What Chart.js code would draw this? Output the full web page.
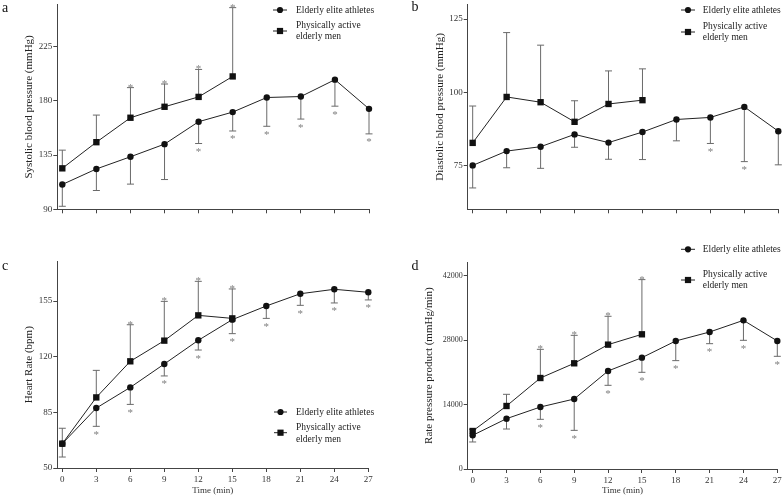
<!DOCTYPE html>
<html>
<head>
<meta charset="utf-8">
<script src="https://cdn.jsdelivr.net/npm/chart.js@4.4.0/dist/chart.umd.min.js"></script>
<style>
html, body { margin: 0; padding: 0; background: #fff; }
#wrap { position: relative; width: 783px; height: 496px; overflow: hidden; }
canvas { position: absolute; }
</style>
</head>
<body>
<div id="wrap">
  <canvas id="pa" width="390" height="240" style="left:0;top:0"></canvas>
  <canvas id="pb" width="393" height="240" style="left:390px;top:0"></canvas>
  <canvas id="pc" width="390" height="256" style="left:0;top:240px"></canvas>
  <canvas id="pd" width="393" height="256" style="left:390px;top:240px"></canvas>
</div>
<script>
// time points (min)
const timesElite = [0, 3, 6, 9, 12, 15, 18, 21, 24, 27];
const timesActive = [0, 3, 6, 9, 12, 15];
const xTicks = [0, 3, 6, 9, 12, 15, 18, 21, 24, 27];
const seriesNames = ['Elderly elite athletes', 'Physically active', 'elderly men'];

// a - systolic blood pressure
const sbpElite = [110.6, 123.5, 133.6, 144.1, 162.7, 170.7, 182.8, 183.6, 197.6, 173.4];
const sbpEliteSd = [18.1, 17.9, 22.7, 29.4, 18.1, 15.7, 23.9, 18.7, 22.0, 20.8];
const sbpActive = [124.0, 145.7, 166.0, 175.1, 183.3, 200.3];
const sbpActiveSd = [15.1, 22.5, 25.0, 18.9, 22.8, 57.1];
const sbpEliteStar = [0, 0, 0, 0, 1, 1, 1, 1, 1, 1];
const sbpActiveStar = [0, 0, 1, 1, 1, 1];
const sbpTicks = [90, 135, 180, 225];

// b - diastolic blood pressure
const dbpElite = [75.0, 79.9, 81.4, 85.6, 82.8, 86.4, 90.7, 91.4, 95.0, 86.7];
const dbpEliteSd = [7.7, 5.7, 7.4, 4.4, 5.7, 9.4, 7.3, 8.9, 18.7, 11.5];
const dbpActive = [82.7, 98.4, 96.6, 89.9, 96.0, 97.3];
const dbpActiveSd = [12.6, 22.0, 19.5, 7.2, 11.3, 10.7];
const dbpEliteStar = [0, 0, 0, 0, 0, 0, 0, 1, 1, 0];
const dbpActiveStar = [0, 0, 0, 0, 0, 0];
const dbpTicks = [75, 100, 125];

// c - heart rate
const hrElite = [65.3, 87.7, 100.7, 115.4, 130.3, 143.3, 151.9, 159.6, 162.4, 160.5];
const hrEliteSd = [8.4, 11.5, 10.7, 7.5, 6.1, 8.8, 7.8, 7.3, 8.6, 4.8];
const hrActive = [65.3, 94.4, 117.1, 130.1, 146.0, 144.1];
const hrActiveSd = [9.7, 17.0, 23.0, 24.7, 21.4, 18.5];
const hrEliteStar = [0, 1, 1, 1, 1, 1, 1, 1, 1, 1];
const hrActiveStar = [0, 0, 1, 1, 1, 1];
const hrTicks = [50, 85, 120, 155];

// d - rate pressure product
const rppElite = [7330, 10950, 13490, 15230, 21330, 24230, 27860, 29810, 32350, 27860];
const rppEliteSd = [1450, 2250, 2680, 6820, 3120, 3190, 4280, 2540, 4350, 3340];
const rppActive = [8270, 13710, 19800, 23000, 27060, 29310];
const rppActiveSd = [360, 2540, 6240, 6090, 6170, 11900];
const rppEliteStar = [0, 0, 1, 1, 1, 1, 1, 1, 1, 1];
const rppActiveStar = [0, 0, 1, 1, 1, 1];
const rppTicks = [0, 14000, 28000, 42000];

const FONT = '"Liberation Serif", "Times New Roman", serif';
const LINE = '#222';
const BAR = '#6a6a6a';
const STAR = '#808080';

Chart.defaults.font.family = FONT;
Chart.defaults.color = '#333';

// error bars, asterisks, legend and panel letter
const extras = {
  id: 'extras',
  beforeDatasetsDraw(chart) {
    const p = chart.options.plugins.extras;
    const xs = chart.scales.x, ys = chart.scales.y;
    const ctx = chart.ctx;
    ctx.save();
    ctx.strokeStyle = BAR;
    ctx.lineWidth = 1;
    p.bars.forEach(b => {
      b.times.forEach((t, i) => {
        const x = xs.getPixelForValue(t);
        const y0 = ys.getPixelForValue(b.mean[i]);
        const y1 = ys.getPixelForValue(b.mean[i] + b.dir * b.sd[i]);
        ctx.beginPath();
        ctx.moveTo(x, y0);
        ctx.lineTo(x, y1);
        ctx.moveTo(x - 3.5, y1);
        ctx.lineTo(x + 3.5, y1);
        ctx.stroke();
      });
    });
    ctx.restore();
  },
  afterDatasetsDraw(chart) {
    const p = chart.options.plugins.extras;
    const xs = chart.scales.x, ys = chart.scales.y;
    const ctx = chart.ctx;
    ctx.save();
    // asterisks
    ctx.fillStyle = STAR;
    ctx.font = '11px ' + FONT;
    ctx.textAlign = 'center';
    ctx.textBaseline = 'alphabetic';
    p.bars.forEach(b => {
      b.times.forEach((t, i) => {
        if (!b.star[i]) return;
        const x = xs.getPixelForValue(t);
        const y1 = ys.getPixelForValue(b.mean[i] + b.dir * b.sd[i]);
        ctx.fillText('*', x, b.dir < 0 ? y1 + 11.5 : y1 + 3);
      });
    });
    // legend
    const L = p.legend;
    ctx.strokeStyle = LINE;
    ctx.fillStyle = '#111';
    ctx.lineWidth = 1;
    ctx.beginPath();
    ctx.moveTo(L.x0, L.r1); ctx.lineTo(L.x1, L.r1);
    ctx.moveTo(L.x0, L.sq); ctx.lineTo(L.x1, L.sq);
    ctx.stroke();
    const mx = (L.x0 + L.x1) / 2;
    ctx.beginPath();
    ctx.arc(mx, L.r1, 3.1, 0, Math.PI * 2);
    ctx.fill();
    ctx.fillRect(mx - 3.1, L.sq - 3.1, 6.2, 6.2);
    ctx.fillStyle = '#222';
    ctx.font = '9.5px ' + FONT;
    ctx.textAlign = 'left';
    ctx.textBaseline = 'middle';
    ctx.fillText(seriesNames[0], L.tx, L.r1);
    ctx.fillText(seriesNames[1], L.tx, L.r2);
    ctx.fillText(seriesNames[2], L.tx, L.r3);
    // panel letter
    ctx.fillStyle = '#111';
    ctx.font = '14px ' + FONT;
    ctx.textAlign = 'center';
    ctx.fillText(p.letter.text, p.letter.x, p.letter.y);
    ctx.restore();
  }
};

function makePanel(id, c) {
  const toXY = (ts, vs) => ts.map((t, i) => ({ x: t, y: vs[i] }));
  const grid = { display: true, drawOnChartArea: false, drawTicks: true, tickLength: 4, color: '#444' };
  const border = { display: true, color: '#444', width: 1 };
  new Chart(document.getElementById(id), {
    type: 'line',
    data: {
      datasets: [
        {
          data: toXY(timesElite, c.elite),
          borderColor: LINE, borderWidth: 1, tension: 0, clip: false,
          pointStyle: 'circle', pointRadius: 3.2, pointBorderWidth: 0,
          pointBackgroundColor: '#111'
        },
        {
          data: toXY(timesActive, c.active),
          borderColor: LINE, borderWidth: 1, tension: 0, clip: false,
          pointStyle: 'rect', pointRadius: 4.5, pointBorderWidth: 0,
          pointBackgroundColor: '#111'
        }
      ]
    },
    options: {
      responsive: false,
      animation: false,
      events: [],
      layout: { padding: c.pad },
      plugins: {
        legend: { display: false },
        tooltip: { enabled: false },
        extras: {
          bars: [
            { times: timesElite, mean: c.elite, sd: c.eliteSd, star: c.eliteStar, dir: -1 },
            { times: timesActive, mean: c.active, sd: c.activeSd, star: c.activeStar, dir: 1 }
          ],
          legend: c.legend,
          letter: c.letter
        }
      },
      scales: {
        x: {
          type: 'linear', min: -0.44, max: 27,
          grid: grid, border: border,
          afterBuildTicks: s => { s.ticks = xTicks.map(v => ({ value: v })); },
          afterFit: s => { s.height = c.xHeight; s.paddingLeft = 0; s.paddingRight = 0; },
          ticks: { display: c.showX, font: { size: 9 }, padding: 2, color: '#333', maxRotation: 0, callback: v => String(v) },
          title: { display: c.showX, text: 'Time (min)', font: { size: 9 }, color: '#333', padding: { top: 0, bottom: 0 } }
        },
        y: {
          type: 'linear', min: c.yMin, max: c.yMax,
          grid: grid, border: border,
          afterBuildTicks: s => { s.ticks = c.yTicks.map(v => ({ value: v })); },
          afterFit: s => { s.width = c.yWidth; s.paddingTop = 0; s.paddingBottom = 0; },
          ticks: { font: { size: c.tickSize }, padding: 1, color: '#333', callback: v => String(v) },
          title: { display: true, text: c.yTitle, font: { size: 11 }, color: '#222', padding: { top: c.titlePad, bottom: 0 } }
        }
      }
    },
    plugins: [extras]
  });
}

makePanel('pa', {
  elite: sbpElite, eliteSd: sbpEliteSd, eliteStar: sbpEliteStar,
  active: sbpActive, activeSd: sbpActiveSd, activeStar: sbpActiveStar,
  yMin: 90, yMax: 260, yTicks: sbpTicks, yTitle: 'Systolic blood pressure (mmHg)',
  pad: { left: 0, top: 3, right: 21, bottom: 0 }, yWidth: 57.3, xHeight: 30.7,
  titlePad: 22.4, tickSize: 9, showX: false,
  legend: { x0: 273, x1: 287, tx: 296, r1: 10, r2: 25, r3: 36, sq: 31 },
  letter: { text: 'a', x: 5, y: 8 }
});

makePanel('pb', {
  elite: dbpElite, eliteSd: dbpEliteSd, eliteStar: dbpEliteStar,
  active: dbpActive, activeSd: dbpActiveSd, activeStar: dbpActiveStar,
  yMin: 60, yMax: 130, yTicks: dbpTicks, yTitle: 'Diastolic blood pressure (mmHg)',
  pad: { left: 0, top: 1.8, right: 4.7, bottom: 0 }, yWidth: 77.7, xHeight: 30.7,
  titlePad: 43.4, tickSize: 9, showX: false,
  legend: { x0: 291, x1: 305, tx: 312.7, r1: 10, r2: 26, r3: 37, sq: 32 },
  letter: { text: 'b', x: 25, y: 7 }
});

makePanel('pc', {
  elite: hrElite, eliteSd: hrEliteSd, eliteStar: hrEliteStar,
  active: hrActive, activeSd: hrActiveSd, activeStar: hrActiveStar,
  yMin: 50, yMax: 180, yTicks: hrTicks, yTitle: 'Heart Rate (bpm)',
  pad: { left: 0, top: 21.3, right: 21.7, bottom: 0 }, yWidth: 57.3, xHeight: 28,
  titlePad: 22.4, tickSize: 9, showX: true,
  legend: { x0: 274, x1: 287, tx: 296, r1: 172, r2: 187.7, r3: 199.3, sq: 192.7 },
  letter: { text: 'c', x: 5, y: 26 }
});

makePanel('pd', {
  elite: rppElite, eliteSd: rppEliteSd, eliteStar: rppEliteStar,
  active: rppActive, activeSd: rppActiveSd, activeStar: rppActiveStar,
  yMin: 0, yMax: 45000, yTicks: rppTicks, yTitle: 'Rate pressure product (mmHg/min)',
  pad: { left: 0, top: 22.2, right: 5.7, bottom: 0 }, yWidth: 77.7, xHeight: 27,
  titlePad: 32.7, tickSize: 8, showX: true,
  legend: { x0: 291, x1: 305, tx: 312.7, r1: 9.3, r2: 34, r3: 45, sq: 40 },
  letter: { text: 'd', x: 25, y: 26 }
});
</script>
</body>
</html>
